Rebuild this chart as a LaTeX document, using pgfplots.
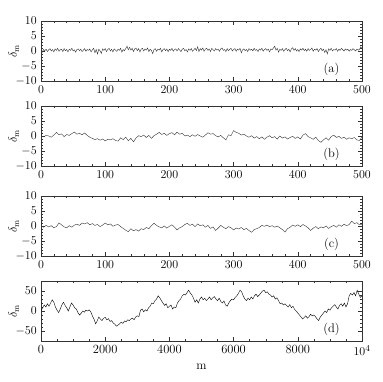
\documentclass[border=0pt]{standalone}
\usepackage{pgfplots}
\pgfplotsset{compat=1.18}

\pgfplotsset{
  panel/.style={
    scale only axis, width=321pt, height=60pt,
    xmin=0, xmax=500, ymin=-10, ymax=10,
    xtick={0,100,...,500}, ytick={-10,-5,0,5,10},
    minor x tick num=4, minor y tick num=4,
    tick align=inside, major tick length=4pt, minor tick length=2pt,
    axis line style={black!80, line width=0.4pt},
    every tick/.style={black!80, line width=0.4pt},
    ylabel={$\delta_{\mathrm{m}}$},
    every axis y label/.style={at={(axis description cs:-0.085,0.5)}, rotate=90, anchor=center, font=\large},
    cycle list={{black!80, line width=0.45pt, no marks}},
  },
}

\begin{document}
\fontsize{12.5}{15}\selectfont
\begin{tikzpicture}
\useasboundingbox (0,0) rectangle (382pt,382pt);

% (a)
\begin{axis}[panel, at={(41pt,301pt)}]
\addplot coordinates {
(0,0.3)(2,-0.4)(4,0.5)(6,0.1)(8,0.6)(10,-0.2)(12,0.4)(14,0.8)(16,0.0)(18,0.5)
(20,-0.3)(22,0.7)(24,0.2)(26,0.9)(28,-0.1)(30,0.4)(32,0.6)(34,-0.2)(36,0.8)(38,0.1)
(40,0.5)(42,-0.3)(44,0.6)(46,0.2)(48,0.9)(50,0.0)(52,0.4)(54,-0.4)(56,0.5)(58,0.7)
(60,0.1)(62,0.6)(64,-0.2)(66,0.3)(68,0.8)(70,-0.1)(72,0.5)(74,0.2)(76,0.7)(78,-0.3)
(80,0.4)(82,0.9)(84,-0.6)(86,0.5)(88,-1.0)(90,0.6)(92,0.1)(94,-0.8)(96,0.7)(98,0.2)
(100,0.8)(102,-0.2)(104,0.5)(106,0.9)(108,0.0)(110,0.6)(112,-0.3)(114,0.7)(116,0.3)(118,-0.1)
(120,0.6)(122,0.2)(124,0.9)(126,-0.4)(128,0.5)(130,0.1)(132,0.8)(134,1.6)(136,0.4)(138,1.2)
(140,0.3)(142,0.9)(144,-0.2)(146,0.7)(148,1.0)(150,0.1)(152,0.8)(154,-0.3)(156,0.6)(158,0.9)
(160,0.0)(162,0.7)(164,0.3)(166,1.0)(168,-0.2)(170,0.6)(172,0.2)(174,-0.9)(176,0.5)(178,0.8)
(180,-0.1)(182,0.6)(184,0.3)(186,0.9)(188,-0.3)(190,0.5)(192,0.8)(194,0.1)(196,0.7)(198,-0.2)
(200,0.6)(202,0.2)(204,0.9)(206,-0.1)(208,0.5)(210,0.7)(212,0.0)(214,0.8)(216,0.3)(218,-0.2)
(220,0.6)(222,0.9)(224,0.1)(226,0.5)(228,-0.3)(230,0.7)(232,0.2)(234,0.8)(236,-0.1)(238,0.4)
(240,0.9)(242,0.1)(244,1.4)(246,-0.2)(248,0.8)(250,0.3)(252,1.0)(254,-0.1)(256,0.6)(258,0.9)
(260,0.2)(262,0.7)(264,-0.2)(266,0.9)(268,0.4)(270,0.0)(272,0.8)(274,0.3)(276,0.6)(278,-0.1)
(280,0.7)(282,1.0)(284,0.2)(286,0.5)(288,-0.2)(290,0.8)(292,0.1)(294,0.6)(296,0.9)(298,0.0)
(300,0.5)(302,0.8)(304,-0.1)(306,0.6)(308,0.3)(310,0.9)(312,-0.6)(314,0.4)(316,0.7)(318,0.1)
(320,0.5)(322,-0.2)(324,0.8)(326,0.3)(328,0.6)(330,0.0)(332,0.9)(334,0.2)(336,0.5)(338,-0.2)
(340,0.7)(342,0.3)(344,0.9)(346,-0.1)(348,0.5)(350,0.8)(352,0.2)(354,0.6)(356,-0.3)(358,0.7)
(360,0.4)(362,1.0)(364,1.6)(366,0.3)(368,0.9)(370,-0.4)(372,0.6)(374,0.2)(376,0.8)(378,-0.1)
(380,0.5)(382,0.9)(384,0.1)(386,0.6)(388,-0.3)(390,0.7)(392,1.1)(394,0.2)(396,0.8)(398,0.0)
(400,0.5)(402,-0.2)(404,0.7)(406,0.3)(408,0.9)(410,0.1)(412,0.6)(414,-0.1)(416,0.8)(418,0.2)
(420,0.5)(422,1.0)(424,-0.1)(426,0.6)(428,0.3)(430,0.8)(432,-0.2)(434,0.5)(436,0.9)(438,0.1)
(440,0.6)(442,-0.5)(444,0.4)(446,-1.0)(448,0.7)(450,0.2)(452,0.9)(454,0.0)(456,0.5)(458,0.3)
(460,0.8)(462,-0.1)(464,0.6)(466,0.2)(468,0.9)(470,0.4)(472,0.0)(474,0.7)(476,0.3)(478,0.6)
(480,-0.1)(482,0.5)(484,0.2)(486,0.8)(488,0.4)(490,0.0)(492,0.6)(494,0.3)(496,0.5)(498,1.4)
(500,0.8)
};
\node at (rel axis cs:0.905,0.2) {(a)};
\end{axis}

% (b)
\begin{axis}[panel, at={(41pt,216pt)}]
\addplot coordinates {
(0,0.0)(4,-0.3)(8,0.2)(12,0.0)(16,-0.4)(20,0.3)(24,1.2)(28,0.4)(32,0.7)(36,-0.2)
(40,0.5)(44,0.2)(48,0.8)(52,1.3)(56,0.6)(60,0.9)(64,0.4)(68,1.0)(72,0.2)(76,-0.4)
(80,-0.8)(84,-1.2)(88,-0.9)(92,-1.4)(96,-1.0)(100,-1.6)(104,-1.1)(108,-1.3)(112,-0.9)(116,-1.5)
(120,-1.7)(124,-0.6)(128,-1.2)(132,-0.4)(136,-1.6)(140,-0.8)(144,-1.9)(148,-0.7)(152,0.1)(156,-0.2)
(160,0.3)(164,-0.5)(168,0.2)(172,-0.8)(176,0.1)(180,0.6)(184,1.2)(188,0.5)(192,0.9)(196,0.2)
(200,0.8)(204,1.1)(208,0.4)(212,1.3)(216,0.6)(220,0.9)(224,0.0)(228,0.3)(232,-0.2)(236,0.4)
(240,-0.1)(244,0.5)(248,0.0)(252,-0.4)(256,0.3)(260,1.1)(264,0.6)(268,0.8)(272,0.1)(276,-0.3)
(280,0.2)(284,-0.6)(288,-1.3)(292,0.4)(296,0.1)(300,1.8)(304,1.2)(308,0.9)(312,0.3)(316,0.6)
(320,0.0)(324,-0.4)(328,0.1)(332,-0.7)(336,-0.2)(340,-0.9)(344,-0.3)(348,-1.1)(352,-0.4)(356,0.1)
(360,-0.6)(364,-0.2)(368,-1.0)(372,0.0)(376,-0.7)(380,-0.3)(384,-1.0)(388,-0.5)(392,-0.1)(396,-0.8)
(400,-0.3)(404,-1.0)(408,0.3)(412,0.8)(416,-0.2)(420,-0.6)(424,-1.1)(428,-0.4)(432,-1.5)(436,-2.1)
(440,-1.3)(444,-0.6)(448,-1.4)(452,-0.2)(456,0.3)(460,-0.5)(464,-0.1)(468,-0.8)(472,-0.4)(476,-1.1)
(480,-0.6)(484,-0.9)(488,-0.5)(492,-1.3)(496,-1.5)(500,-0.3)
};
\node at (rel axis cs:0.905,0.2) {(b)};
\end{axis}

% (c)
\begin{axis}[panel, at={(41pt,126pt)}]
\addplot coordinates {
(0,0.0)(4,-0.4)(8,0.2)(12,-0.3)(16,0.1)(20,-0.6)(24,-0.2)(28,1.0)(32,0.4)(36,-0.3)
(40,-0.6)(44,0.1)(48,-0.4)(52,0.3)(56,0.6)(60,0.2)(64,1.0)(68,0.7)(72,1.1)(76,0.4)
(80,0.8)(84,0.2)(88,0.5)(92,-0.2)(96,0.3)(100,1.0)(104,0.4)(108,0.7)(112,-0.1)(116,0.3)
(120,0.5)(124,-0.2)(128,-0.8)(132,-1.4)(136,-1.9)(140,-0.9)(144,-1.6)(148,-1.2)(152,-1.7)(156,-0.9)
(160,-1.2)(164,-0.5)(168,-0.9)(172,0.1)(176,0.9)(180,0.2)(184,-0.3)(188,-0.6)(192,0.0)(196,-0.7)
(200,-0.1)(204,0.4)(208,-0.4)(212,-1.3)(216,-0.6)(220,-0.2)(224,0.5)(228,0.9)(232,0.2)(236,0.6)
(240,-0.2)(244,0.7)(248,0.1)(252,0.4)(256,-0.4)(260,0.2)(264,-0.8)(268,-0.3)(272,-1.5)(276,-0.7)
(280,0.2)(284,-0.4)(288,-0.9)(292,-0.2)(296,-0.6)(300,-1.3)(304,-0.7)(308,-1.0)(312,-0.5)(316,-1.2)
(320,-0.8)(324,-1.5)(328,-2.1)(332,-1.2)(336,-0.9)(340,-0.5)(344,0.2)(348,-0.1)(352,0.3)(356,-0.2)
(360,0.1)(364,-0.4)(368,0.0)(372,-0.6)(376,-1.2)(380,-2.0)(384,-0.9)(388,-0.4)(392,0.3)(396,-0.1)
(400,0.4)(404,-0.2)(408,0.5)(412,0.0)(416,-0.6)(420,-1.5)(424,-0.7)(428,-0.2)(432,-0.9)(436,-0.3)
(440,-0.6)(444,0.0)(448,-0.8)(452,-0.2)(456,0.2)(460,-0.4)(464,0.4)(468,-0.1)(472,0.6)(476,0.1)
(480,0.5)(484,1.6)(488,0.8)(492,1.1)(496,0.4)(500,0.5)
};
\node at (rel axis cs:0.905,0.2) {(c)};
\end{axis}

% (d)
\begin{axis}[panel, at={(41pt,41pt)},
  xmax=10000, ymin=-75, ymax=75,
  xtick={0,2000,4000,6000,8000,10000},
  xticklabels={0,2000,4000,6000,8000,$10^4$},
  scaled x ticks=false,
  ytick={-50,0,50}, minor x tick num=3, minor y tick num=4,
  xlabel={m},
  cycle list={{black, line width=0.7pt, no marks}},
]
\addplot coordinates {
(0,0)(50,8)(100,15)(150,10)(200,18)(250,12)(300,20)(350,28)(400,22)(450,10)
(500,2)(550,-4)(600,5)(650,15)(700,22)(750,14)(800,8)(850,0)(900,10)(950,20)
(1000,15)(1050,8)(1100,5)(1150,-4)(1200,-10)(1250,-6)(1300,0)(1350,-3)(1400,2)(1450,0)
(1500,3)(1550,-2)(1600,-12)(1650,-20)(1700,-32)(1750,-25)(1800,-15)(1850,-20)(1900,-24)(1950,-18)
(2000,-16)(2050,-22)(2100,-19)(2150,-26)(2200,-24)(2250,-30)(2300,-33)(2350,-38)(2400,-35)(2450,-32)
(2500,-28)(2550,-31)(2600,-25)(2650,-27)(2700,-22)(2750,-24)(2800,-20)(2850,-18)(2900,-22)(2950,-15)
(3000,-12)(3050,-14)(3100,2)(3150,5)(3200,-2)(3250,3)(3300,0)(3350,8)(3400,12)(3450,20)
(3500,18)(3550,26)(3600,30)(3650,38)(3700,33)(3750,26)(3800,20)(3850,14)(3900,18)(3950,8)
(4000,12)(4050,15)(4100,5)(4150,10)(4200,8)(4250,20)(4300,26)(4350,30)(4400,38)(4450,42)
(4500,40)(4550,46)(4600,52)(4650,45)(4700,40)(4750,32)(4800,22)(4850,28)(4900,20)(4950,30)
(5000,35)(5050,28)(5100,32)(5150,26)(5200,30)(5250,35)(5300,28)(5350,33)(5400,36)(5450,30)
(5500,26)(5550,32)(5600,24)(5650,20)(5700,25)(5750,15)(5800,12)(5850,20)(5900,26)(5950,30)
(6000,28)(6050,34)(6100,38)(6150,44)(6200,52)(6250,48)(6300,38)(6350,30)(6400,26)(6450,32)
(6500,28)(6550,35)(6600,30)(6650,38)(6700,42)(6750,36)(6800,40)(6850,45)(6900,50)(6950,52)
(7000,46)(7050,48)(7100,42)(7150,40)(7200,35)(7250,38)(7300,30)(7350,33)(7400,26)(7450,18)
(7500,20)(7550,15)(7600,18)(7650,14)(7700,10)(7750,16)(7800,8)(7850,12)(7900,4)(7950,0)
(8000,-5)(8050,-10)(8100,-15)(8150,-20)(8200,-16)(8250,-12)(8300,-18)(8350,-14)(8400,-8)(8450,-12)
(8500,-10)(8550,-14)(8600,-20)(8650,-24)(8700,-15)(8750,-10)(8800,-5)(8850,0)(8900,-4)(8950,5)
(9000,2)(9050,8)(9100,12)(9150,16)(9200,10)(9250,5)(9300,14)(9350,18)(9400,12)(9450,20)
(9500,10)(9550,18)(9600,38)(9650,44)(9700,40)(9750,46)(9800,38)(9850,52)(9900,42)(9950,34)
(10000,38)
};
\node at (rel axis cs:0.905,0.2) {(d)};
\end{axis}
\end{tikzpicture}
\end{document}
